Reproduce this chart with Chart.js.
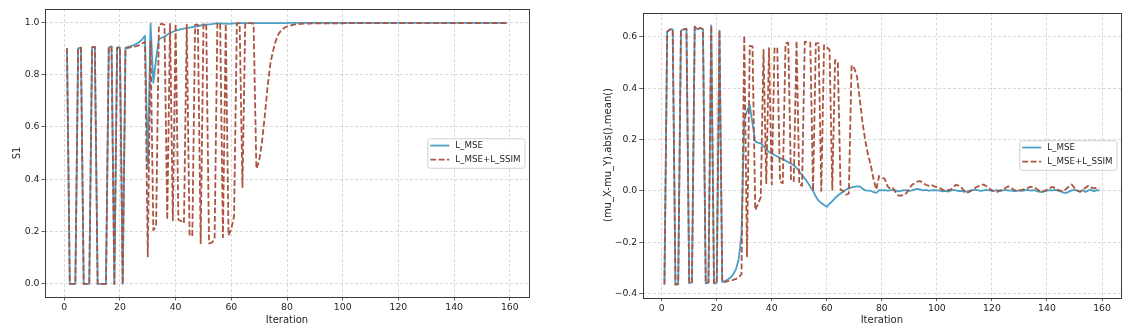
<!DOCTYPE html>
<html>
<head>
<meta charset="utf-8">
<title>S1 and mean difference per iteration</title>
<script src="https://cdn.jsdelivr.net/npm/chart.js@4.4.1/dist/chart.umd.min.js"></script>
<style>
  html, body { margin: 0; padding: 0; background: #fff; }
  #wrap { position: relative; width: 1142px; height: 336px; overflow: hidden; }
  canvas { position: absolute; top: 0; }
  #s1Chart { left: 0; }
  #muChart { left: 575px; }
</style>
</head>
<body>
<div id="wrap">
  <canvas id="s1Chart" width="575" height="336"></canvas>
  <canvas id="muChart" width="567" height="336"></canvas>
</div>
<script>
// ---- data ---------------------------------------------------------------
const iterations = Array.from({ length: 159 }, (_, i) => i + 1);

const seriesNames = ['L_MSE', 'L_MSE+L_SSIM'];

// S1 per iteration
const s1Mse = [
  0.900, 0.000, 0.000, 0.000, 0.900, 0.902, 0.000, 0.000, 0.000, 0.903,
  0.905, 0.000, 0.000, 0.000, 0.000, 0.903, 0.906, 0.000, 0.902, 0.903,
  0.000, 0.902, 0.905, 0.908, 0.912, 0.917, 0.924, 0.934, 0.948, 0.440,
  0.995, 0.768, 0.860, 0.935, 0.940, 0.945, 0.952, 0.958, 0.963, 0.967,
  0.970, 0.973, 0.975, 0.977, 0.979, 0.981, 0.983, 0.985, 0.987, 0.989,
  0.990, 0.991, 0.992, 0.994, 0.995, 0.995, 0.994, 0.994, 0.993, 0.994,
  0.995, 0.995, 0.996, 0.996, 0.996, 0.996, 0.996, 0.996, 0.996, 0.996,
  0.996, 0.996, 0.996, 0.996, 0.996, 0.996, 0.996, 0.996, 0.996, 0.996,
  0.997, 0.997, 0.997, 0.997, 0.997, 0.997, 0.997, 0.997, 0.997, 0.997,
  0.997, 0.997, 0.997, 0.997, 0.997, 0.997, 0.997, 0.997, 0.997, 0.997,
  0.997, 0.997, 0.997, 0.997, 0.997, 0.997, 0.997, 0.997, 0.997, 0.997,
  0.997, 0.997, 0.997, 0.997, 0.997, 0.997, 0.997, 0.997, 0.997, 0.997,
  0.997, 0.997, 0.997, 0.997, 0.997, 0.997, 0.997, 0.997, 0.997, 0.997,
  0.997, 0.997, 0.997, 0.997, 0.997, 0.997, 0.997, 0.997, 0.997, 0.997,
  0.997, 0.997, 0.997, 0.997, 0.997, 0.997, 0.997, 0.997, 0.997, 0.997,
  0.997, 0.997, 0.997, 0.997, 0.997, 0.997, 0.997, 0.997, 0.997
];

const s1MseSsim = [
  0.900, 0.000, 0.000, 0.000, 0.900, 0.902, 0.000, 0.000, 0.000, 0.903,
  0.905, 0.000, 0.000, 0.000, 0.000, 0.903, 0.906, 0.000, 0.902, 0.903,
  0.000, 0.900, 0.902, 0.904, 0.906, 0.908, 0.912, 0.918, 0.925, 0.105,
  0.930, 0.205, 0.220, 0.990, 0.993, 0.990, 0.245, 0.993, 0.243, 0.993,
  0.245, 0.240, 0.232, 0.990, 0.190, 0.182, 0.990, 0.990, 0.155, 0.992,
  0.993, 0.155, 0.158, 0.170, 0.995, 0.995, 0.178, 0.993, 0.185, 0.210,
  0.260, 0.995, 0.995, 0.370, 0.995, 0.996, 0.996, 0.993, 0.440, 0.470,
  0.540, 0.640, 0.750, 0.840, 0.890, 0.930, 0.955, 0.970, 0.978, 0.983,
  0.986, 0.989, 0.991, 0.992, 0.993, 0.994, 0.994, 0.994, 0.995, 0.995,
  0.995, 0.995, 0.995, 0.995, 0.995, 0.995, 0.995, 0.995, 0.995, 0.995,
  0.996, 0.996, 0.996, 0.996, 0.996, 0.996, 0.996, 0.996, 0.996, 0.996,
  0.996, 0.996, 0.996, 0.996, 0.996, 0.996, 0.996, 0.996, 0.996, 0.996,
  0.996, 0.996, 0.996, 0.996, 0.996, 0.996, 0.996, 0.996, 0.996, 0.996,
  0.996, 0.996, 0.996, 0.996, 0.996, 0.996, 0.996, 0.996, 0.996, 0.996,
  0.996, 0.996, 0.996, 0.996, 0.996, 0.996, 0.996, 0.996, 0.996, 0.996,
  0.996, 0.996, 0.996, 0.996, 0.996, 0.996, 0.996, 0.996, 0.996
];

// (mu_X - mu_Y).abs().mean() per iteration
const muMse = [
  -0.365, 0.620, 0.630, 0.630, -0.365, -0.363, 0.625, 0.630, 0.632, -0.360,
  -0.356, 0.640, 0.630, 0.635, 0.630, -0.360, -0.357, 0.645, -0.360, -0.358,
  0.625, -0.355, -0.352, -0.345, -0.338, -0.325, -0.305, -0.265, -0.170, 0.280,
  0.310, 0.335, 0.262, 0.193, 0.188, 0.185, 0.175, 0.162, 0.152, 0.146,
  0.140, 0.134, 0.128, 0.124, 0.118, 0.112, 0.106, 0.100, 0.090, 0.075,
  0.062, 0.048, 0.034, 0.016, 0.000, -0.022, -0.038, -0.047, -0.055, -0.062,
  -0.050, -0.040, -0.028, -0.018, -0.010, -0.002, 0.005, 0.010, 0.014, 0.016,
  0.018, 0.018, 0.008, 0.002, 0.001, 0.000, -0.005, -0.008, 0.003, 0.002,
  0.003, 0.001, 0.002, 0.004, 0.002, -0.002, 0.000, 0.003, 0.002, 0.000,
  0.002, 0.006, 0.008, 0.005, 0.002, 0.004, 0.001, 0.002, 0.003, 0.002,
  0.001, -0.002, 0.000, -0.003, 0.001, 0.004, 0.002, -0.001, 0.000, -0.004,
  -0.002, 0.001, 0.003, 0.005, 0.002, 0.000, 0.002, 0.004, 0.002, 0.000,
  0.001, 0.003, -0.001, 0.002, 0.004, 0.001, 0.002, -0.001, 0.000, 0.002,
  0.000, 0.002, 0.004, 0.001, 0.003, 0.001, -0.003, -0.005, -0.002, 0.001,
  0.003, 0.002, 0.004, 0.001, -0.002, -0.007, -0.008, -0.003, 0.002, 0.004,
  0.001, -0.002, 0.003, -0.004, 0.002, 0.005, -0.002, 0.003, 0.001
];

const muMseSsim = [
  -0.365, 0.620, 0.630, 0.630, -0.365, -0.363, 0.625, 0.630, 0.632, -0.360,
  -0.356, 0.640, 0.630, 0.635, 0.630, -0.360, -0.357, 0.645, -0.360, -0.358,
  0.625, -0.355, -0.355, -0.352, -0.350, -0.347, -0.343, -0.338, -0.325, 0.605,
  -0.255, 0.565, 0.563, -0.075, -0.050, -0.025, 0.550, 0.030, 0.557, 0.025,
  0.555, 0.560, 0.035, 0.030, 0.575, 0.578, 0.040, 0.038, 0.585, 0.025,
  0.020, 0.582, 0.580, 0.578, 0.000, 0.575, 0.576, 0.000, 0.568, 0.560,
  0.550, 0.005, 0.510, 0.505, 0.005, 0.000, -0.015, -0.010, 0.490, 0.478,
  0.445, 0.355, 0.265, 0.195, 0.140, 0.100, 0.044, 0.005, 0.058, 0.052,
  0.048, 0.020, 0.008, 0.011, -0.005, -0.018, -0.018, -0.015, -0.008, 0.010,
  0.024, 0.030, 0.037, 0.038, 0.030, 0.024, 0.020, 0.024, 0.018, 0.015,
  0.011, 0.005, -0.001, 0.003, 0.005, 0.015, 0.024, 0.020, 0.012, 0.000,
  -0.008, -0.002, 0.005, 0.012, 0.018, 0.022, 0.025, 0.018, 0.010, 0.002,
  -0.002, -0.004, 0.002, 0.006, 0.012, 0.018, 0.012, 0.004, 0.000, 0.002,
  0.004, 0.008, 0.012, 0.016, 0.016, 0.010, 0.002, -0.004, 0.000, 0.004,
  0.010, 0.016, 0.010, 0.004, 0.000, -0.002, 0.008, 0.018, 0.025, 0.012,
  0.002, -0.004, 0.004, 0.012, 0.020, 0.014, 0.010, 0.012, 0.010
];

// tick positions
const iterTicks = [0, 20, 40, 60, 80, 100, 120, 140, 160];
const s1Ticks = [0.0, 0.2, 0.4, 0.6, 0.8, 1.0];
const muTicks = [-0.4, -0.2, 0.0, 0.2, 0.4, 0.6];

// ---- styling ------------------------------------------------------------
const FONT = "'DejaVu Sans', 'Liberation Sans', sans-serif";
const TEXT = '#262626';
const BLUE = '#4a9fc6';
const RED = '#ab5440';
const GRID = 'rgba(0,0,0,0.19)';

const toPoints = (ys) => iterations.map((x, i) => ({ x, y: ys[i] }));

const fmtSigned = (v) => (v < -1e-9 ? '\u2212' : '') + Math.abs(v).toFixed(1);

// frame around the plotting area plus an in-plot legend (center right)
const frameLegend = {
  id: 'frameLegend',
  afterDraw(chart) {
    const { ctx, chartArea: a } = chart;
    ctx.save();
    ctx.setLineDash([]);
    ctx.strokeStyle = '#3c3c3c';
    ctx.lineWidth = 1;
    ctx.strokeRect(Math.round(a.left) + 0.5, Math.round(a.top) + 0.5,
                   Math.round(a.right - a.left), Math.round(a.bottom - a.top));

    const items = chart.data.datasets;
    ctx.font = '8.7px ' + FONT;
    const textW = Math.max(...items.map(d => ctx.measureText(d.label).width));
    const boxW = 28 + textW + 4;
    const boxH = 29.5;
    const right = a.right - 4.5;
    const left = right - boxW;
    const top = (a.top + a.bottom) / 2 - boxH / 2;

    ctx.beginPath();
    ctx.roundRect(left + 0.5, top + 0.5, boxW, boxH, 2.5);
    ctx.fillStyle = 'rgba(255,255,255,0.85)';
    ctx.fill();
    ctx.strokeStyle = '#d0d0d0';
    ctx.lineWidth = 1;
    ctx.stroke();

    items.forEach((d, i) => {
      const y = top + 7.3 + i * 14;
      ctx.beginPath();
      ctx.setLineDash(d.borderDash || []);
      ctx.strokeStyle = d.borderColor;
      ctx.lineWidth = d.borderWidth;
      ctx.moveTo(left + 3, y);
      ctx.lineTo(left + 22, y);
      ctx.stroke();
      ctx.setLineDash([]);
      ctx.fillStyle = TEXT;
      ctx.textAlign = 'left';
      ctx.textBaseline = 'middle';
      ctx.fillText(d.label, left + 28, y + 0.5);
    });
    ctx.restore();
  }
};

function buildChart(canvasId, cfg) {
  const tickFont = { family: FONT, size: 9.3 };
  const titleFont = { family: FONT, size: 10 };
  return new Chart(document.getElementById(canvasId), {
    type: 'line',
    data: {
      datasets: [
        {
          label: seriesNames[0], data: toPoints(cfg.mse),
          borderColor: BLUE, borderWidth: 1.8, pointRadius: 0,
          tension: 0, borderJoinStyle: 'round', order: 2
        },
        {
          label: seriesNames[1], data: toPoints(cfg.mseSsim),
          borderColor: RED, borderWidth: 1.8, borderDash: [5.8, 2.6], pointRadius: 0,
          tension: 0, borderJoinStyle: 'round', order: 1
        }
      ]
    },
    options: {
      responsive: false,
      animation: false,
      devicePixelRatio: 1,
      events: [],
      layout: { padding: cfg.padding },
      plugins: { legend: { display: false }, tooltip: { enabled: false } },
      scales: {
        x: {
          type: 'linear', min: -6.9, max: 166.9,
          afterBuildTicks: (s) => { s.ticks = iterTicks.map(v => ({ value: v })); },
          afterFit: (s) => { s.height = cfg.xAxisHeight; },
          grid: { color: GRID, lineWidth: 0.8, tickColor: '#3c3c3c', tickLength: 3.5, tickWidth: 0.8 },
          border: { display: false, dash: [3, 2] },
          ticks: { font: tickFont, color: TEXT, padding: 2, maxRotation: 0, autoSkip: false,
                   callback: (v) => String(v) },
          title: { display: true, text: 'Iteration', font: titleFont, color: TEXT,
                   padding: { top: 0, bottom: cfg.xTitleOffset } }
        },
        y: {
          type: 'linear', min: cfg.yMin, max: cfg.yMax,
          afterBuildTicks: (s) => { s.ticks = cfg.yTicks.map(v => ({ value: v })); },
          afterFit: (s) => { s.width = cfg.yAxisWidth; },
          grid: { color: GRID, lineWidth: 0.8, tickColor: '#3c3c3c', tickLength: 3.5, tickWidth: 0.8 },
          border: { display: false, dash: [3, 2] },
          ticks: { font: tickFont, color: TEXT, padding: 2, autoSkip: false,
                   callback: (v) => fmtSigned(v) },
          title: { display: true, text: cfg.yTitle, font: titleFont, color: TEXT,
                   padding: { top: cfg.yTitleOffset, bottom: 0 } }
        }
      }
    },
    plugins: [frameLegend]
  });
}

buildChart('s1Chart', {
  mse: s1Mse, mseSsim: s1MseSsim,
  yMin: -0.05, yMax: 1.05, yTicks: s1Ticks, yTitle: 'S1',
  padding: { top: 9, right: 46, bottom: 0, left: 0 },
  yAxisWidth: 45, xAxisHeight: 39, yTitleOffset: 11, xTitleOffset: 10
});

buildChart('muChart', {
  mse: muMse, mseSsim: muMseSsim,
  yMin: -0.4155, yMax: 0.6955, yTicks: muTicks, yTitle: '(mu_X-mu_Y).abs().mean()',
  padding: { top: 12.5, right: 21, bottom: 0, left: 0 },
  yAxisWidth: 67.7, xAxisHeight: 38.5, yTitleOffset: 27.3, xTitleOffset: 10
});
</script>
</body>
</html>
